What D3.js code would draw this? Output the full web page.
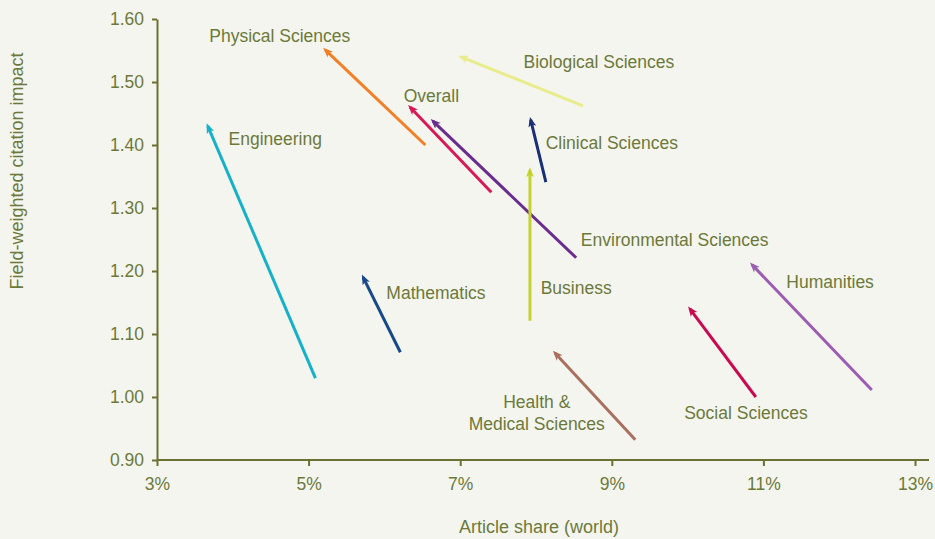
<!DOCTYPE html>
<html>
<head>
<meta charset="utf-8">
<script src="https://cdn.jsdelivr.net/npm/d3@7"></script>
<style>
  body { margin: 0; background: #f4f5ef; }
  svg { display: block; font-family: "Liberation Sans", Arial, sans-serif; }
</style>
</head>
<body>
<svg id="chart" width="935" height="539"></svg>
<script>
var width = 935;
var height = 539;
var marginLeft = 157;
var marginTop = 19;
var plotW = 758;
var plotH = 441;

// arrow data: start -> end, share in %, impact
var fields = ['Engineering', 'Physical Sciences', 'Overall', 'Environmental Sciences', 'Biological Sciences',
  'Clinical Sciences', 'Business', 'Mathematics', 'Health & Medical Sciences', 'Social Sciences', 'Humanities'];
var startShare = [5.09, 6.54, 7.41, 8.53, 8.62, 8.13, 7.92, 6.21, 9.31, 10.90, 12.43];
var startImpact = [1.030, 1.400, 1.325, 1.221, 1.462, 1.341, 1.121, 1.071, 0.932, 1.000, 1.011];
var endShare = [3.67, 5.22, 6.34, 6.64, 7.01, 7.93, 7.92, 5.72, 8.25, 10.03, 10.85];
var endImpact = [1.430, 1.551, 1.460, 1.438, 1.540, 1.440, 1.360, 1.190, 1.070, 1.140, 1.210];
var colours = ['#14b1c9', '#f57f25', '#d91857', '#6a2d8d', '#e9ec8c', '#1b2f78',
  '#c4d331', '#17488a', '#a9705f', '#c90a4f', '#9c5cb1'];

var xTicks = [3, 5, 7, 9, 11, 13];
var yTicks = [0.90, 1.00, 1.10, 1.20, 1.30, 1.40, 1.50, 1.60];

// label anchors (baseline, centred) in data units
var labelLines = [['Engineering'], ['Physical Sciences'], ['Overall'], ['Environmental Sciences'], ['Biological Sciences'],
  ['Clinical Sciences'], ['Business'], ['Mathematics'], ['Health &', 'Medical Sciences'], ['Social Sciences'], ['Humanities']];
var labelShare = [4.56, 4.62, 6.62, 9.83, 8.83, 9.00, 8.53, 6.68, 8.01, 10.77, 11.88];
var labelImpact = [1.400, 1.5635, 1.468, 1.240, 1.522, 1.394, 1.163, 1.156, 0.983, 0.965, 1.173];

var textCol = '#6d793a';
var axisCol = '#6b7131';

var xScale = d3.scaleLinear().domain([3, 13]).range([0, plotW]);
var yScale = d3.scaleLinear().domain([0.90, 1.60]).range([plotH, 0]);

var svg = d3.select('#chart');
svg.append('rect').attr('width', width).attr('height', height).attr('fill', '#f4f5ef');

var graph = svg.append('g')
  .attr('transform', 'translate(' + marginLeft + ',' + marginTop + ')');

// axes
var yAxis = graph.append('g')
  .call(d3.axisLeft(yScale).tickValues(yTicks).tickFormat(d3.format('.2f')).tickSize(5).tickSizeOuter(0).tickPadding(8));
var xAxis = graph.append('g')
  .attr('transform', 'translate(0,' + plotH + ')')
  .call(d3.axisBottom(xScale).tickValues(xTicks).tickFormat(function(d){ return d + '%'; }).tickSize(6).tickSizeOuter(0).tickPadding(12));

[xAxis, yAxis].forEach(function(ax){
  ax.select('.domain').attr('stroke', axisCol).attr('stroke-width', 2);
  ax.selectAll('.tick line').attr('stroke', axisCol).attr('stroke-width', 2);
  ax.selectAll('.tick text').attr('fill', textCol).attr('font-size', 17.5)
    .attr('font-family', '"Liberation Sans", Arial, sans-serif');
});
// x axis line runs a little past the last tick
xAxis.select('.domain').attr('d', 'M0,0H' + (plotW + 14));

// axis titles
svg.append('text')
  .attr('transform', 'translate(23,' + 171 + ') rotate(-90)')
  .attr('text-anchor', 'middle')
  .attr('fill', textCol)
  .attr('font-size', 18)
  .text('Field-weighted citation impact');

svg.append('text')
  .attr('x', 539).attr('y', 533)
  .attr('text-anchor', 'middle')
  .attr('fill', textCol)
  .attr('font-size', 18)
  .text('Article share (world)');

// arrowheads
var defs = svg.append('defs');
colours.forEach(function(c, i){
  defs.append('marker')
    .attr('id', 'head' + i)
    .attr('viewBox', '0 0 10 10')
    .attr('refX', 7).attr('refY', 5)
    .attr('markerUnits', 'userSpaceOnUse')
    .attr('markerWidth', 10).attr('markerHeight', 10)
    .attr('orient', 'auto')
    .append('path')
    .attr('d', 'M0,1 L10,5 L0,9 L2.5,5 Z')
    .attr('fill', c);
});

var idx = d3.range(fields.length);

graph.selectAll('line.arrow')
  .data(idx)
  .enter().append('line')
  .attr('class', 'arrow')
  .attr('x1', function(i){ return xScale(startShare[i]); })
  .attr('y1', function(i){ return yScale(startImpact[i]); })
  .attr('x2', function(i){ return xScale(endShare[i]); })
  .attr('y2', function(i){ return yScale(endImpact[i]); })
  .attr('stroke', function(i){ return colours[i]; })
  .attr('stroke-width', 3)
  .attr('marker-end', function(i){ return 'url(#head' + i + ')'; });

// labels
var labels = graph.selectAll('text.lab')
  .data(idx)
  .enter().append('text')
  .attr('class', 'lab')
  .attr('text-anchor', 'middle')
  .attr('fill', textCol)
  .attr('font-size', 17.5)
  .attr('x', function(i){ return xScale(labelShare[i]); })
  .attr('y', function(i){ return yScale(labelImpact[i]); });

labels.each(function(i){
  var t = d3.select(this);
  labelLines[i].forEach(function(line, k){
    t.append('tspan')
      .attr('x', xScale(labelShare[i]))
      .attr('dy', k === 0 ? 0 : 22)
      .text(line);
  });
});
</script>
</body>
</html>
